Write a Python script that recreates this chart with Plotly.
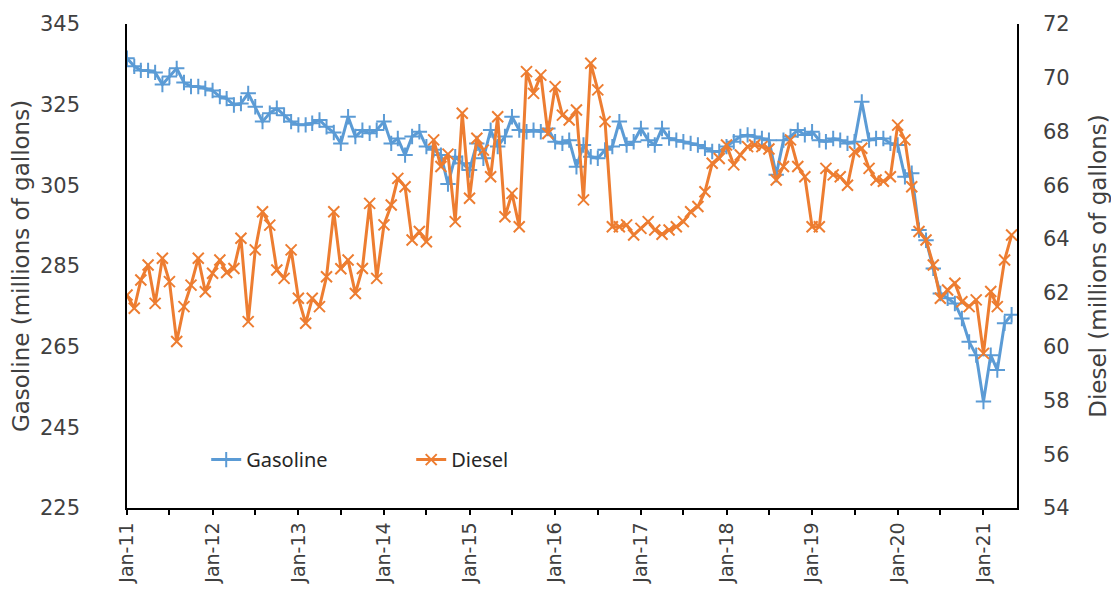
import pandas as pd
import plotly.graph_objects as go

months = pd.date_range("2011-01-01", periods=125, freq="MS")

gasoline = [
    336.5, 334.5, 333.5, 333.5, 333.0, 330.0, 332.0, 334.0, 330.5, 329.5, 329.5, 329.0,
    328.5, 327.0, 326.5, 324.9, 325.3, 327.8, 324.5, 320.8, 322.9, 324.1, 322.4, 320.8,
    320.0, 320.0, 320.4, 321.2, 319.5, 318.1, 315.4, 322.0, 317.1, 318.7, 317.9, 318.7,
    320.8, 315.4, 316.6, 312.5, 317.1, 318.3, 314.6, 313.8, 312.5, 305.3, 312.1, 310.5,
    308.8, 315.4, 311.7, 318.7, 314.6, 317.1, 322.0, 318.7, 318.3, 318.7, 318.3, 319.1,
    315.8, 315.4, 316.2, 309.6, 315.0, 312.1, 311.7, 313.8, 314.6, 320.8, 315.0, 315.8,
    319.1, 316.2, 315.0, 319.1, 316.7, 316.2, 315.8, 315.4, 315.0, 314.2, 313.4, 313.4,
    314.6, 315.8, 317.1, 317.5, 317.1, 316.6, 316.2, 307.6, 316.2, 317.1, 318.7, 317.5,
    318.3, 316.2, 315.8, 316.6, 316.2, 315.4, 315.8, 325.7, 316.2, 316.6, 316.6, 315.4,
    315.0, 307.1, 308.0, 293.9, 291.4, 284.4, 278.2, 277.0, 275.7, 272.0, 266.2, 262.9,
    251.4, 262.9, 259.2, 270.8, 272.9,
]

diesel = [
    61.92, 61.43, 62.48, 63.04, 61.61, 63.29, 62.42, 60.19, 61.49, 62.29, 63.29, 62.04,
    62.73, 63.22, 62.76, 62.91, 64.03, 60.93, 63.60, 65.02, 64.52, 62.85, 62.54, 63.60,
    61.80, 60.87, 61.80, 61.49, 62.60, 65.02, 62.90, 63.22, 61.98, 62.91, 65.33, 62.54,
    64.53, 65.27, 66.26, 65.95, 63.97, 64.28, 63.90, 67.69, 66.70, 67.16, 64.65, 68.68,
    65.52, 67.75, 67.31, 66.32, 68.55, 64.83, 65.70, 64.46, 70.23, 69.42, 70.10, 67.93,
    69.67, 68.61, 68.43, 68.80, 65.46, 70.54, 69.55, 68.37, 64.46, 64.46, 64.53, 64.15,
    64.40, 64.65, 64.34, 64.18, 64.34, 64.46, 64.65, 65.02, 65.21, 65.76, 66.82, 67.00,
    67.50, 66.76, 67.13, 67.44, 67.50, 67.44, 67.35, 66.20, 66.70, 67.69, 66.70, 66.32,
    64.46, 64.46, 66.63, 66.39, 66.32, 66.00, 67.25, 67.38, 66.63, 66.20, 66.15, 66.32,
    68.24, 67.69, 65.95, 64.28, 63.97, 63.04, 61.80, 62.11, 62.36, 61.67, 61.49, 61.74,
    59.75, 62.05, 61.49, 63.22, 64.15,
]

gas_ticks = [225, 245, 265, 285, 305, 325, 345]
diesel_ticks = [54, 56, 58, 60, 62, 64, 66, 68, 70, 72]

BLUE = "#5B9BD5"
ORANGE = "#ED7D31"
AXIS_FONT = "DejaVu Sans"
TXT = "#404040"

fig = go.Figure()
fig.add_trace(go.Scatter(
    x=months, y=gasoline, name="Gasoline", mode="lines+markers",
    line=dict(color=BLUE, width=3),
    marker=dict(symbol="cross-thin", size=11, color=BLUE,
                line=dict(color=BLUE, width=2)),
    yaxis="y",
))
fig.add_trace(go.Scatter(
    x=months, y=diesel, name="Diesel", mode="lines+markers",
    line=dict(color=ORANGE, width=3),
    marker=dict(symbol="x-thin", size=11, color=ORANGE,
                line=dict(color=ORANGE, width=2)),
    yaxis="y2",
))

fig.update_layout(
    width=1103, height=583, autosize=False,
    margin=dict(l=119, r=94, t=16, b=83),
    paper_bgcolor="white", plot_bgcolor="white",
    showlegend=True,
    legend=dict(
        orientation="h", x=0.089, y=0.10, xanchor="left", yanchor="middle",
        font=dict(family="Noto Sans", size=20, color="#262626"),
        bgcolor="rgba(0,0,0,0)", entrywidth=160, entrywidthmode="pixels",
    ),
    xaxis=dict(
        type="date", automargin=False,
        range=["2011-01-01", "2021-05-24"],
        tickmode="linear", tick0="2011-01-01", dtick="M12", tickformat="%b-%y",
        tickangle=-90,
        ticks="outside", ticklen=5, tickcolor="black", tickwidth=1.5,
        minor=dict(ticks="outside", dtick="M6", tick0="2011-01-01",
                   ticklen=5, tickcolor="black", tickwidth=1.5),
        showline=True, linecolor="black", linewidth=1.5,
        showgrid=False, zeroline=False,
        tickfont=dict(family=AXIS_FONT, size=19, color=TXT),
    ),
    yaxis=dict(
        range=[225, 345], tickmode="array", tickvals=gas_ticks, automargin=False,
        showline=True, linecolor="black", linewidth=1.5,
        ticks="outside", ticklen=41, tickcolor="rgba(0,0,0,0)",
        showgrid=False, zeroline=False,
        tickfont=dict(family=AXIS_FONT, size=21, color=TXT),
        title=dict(text="Gasoline (millions of gallons)", standoff=4,
                   font=dict(family=AXIS_FONT, size=23, color=TXT)),
    ),
    yaxis2=dict(
        range=[54, 72], tickmode="array", tickvals=diesel_ticks, automargin=False,
        overlaying="y", side="right",
        showline=True, linecolor="black", linewidth=1.5,
        ticks="outside", ticklen=20, tickcolor="rgba(0,0,0,0)",
        showgrid=False, zeroline=False,
        tickfont=dict(family=AXIS_FONT, size=21, color=TXT),
        title=dict(text="Diesel (millions of gallons)", standoff=22,
                   font=dict(family=AXIS_FONT, size=23, color=TXT)),
    ),
)

fig.write_html("out.html")
